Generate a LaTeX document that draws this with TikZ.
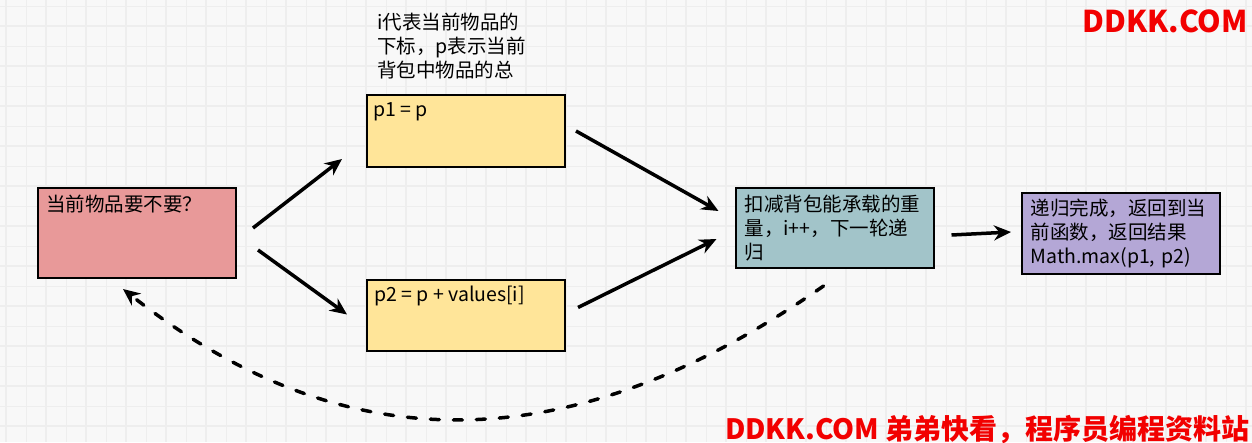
\documentclass[tikz,border=0pt]{standalone}
\usepackage{fontspec}
\setmainfont{Noto Sans CJK SC}
\usepackage{tikz}
\usetikzlibrary{positioning,arrows.meta}

\definecolor{hgrund}{HTML}{F8F8F8}
\definecolor{linie}{HTML}{EEEEEE}
\definecolor{rosa}{HTML}{E89999}
\definecolor{gelb}{HTML}{FFE599}
\definecolor{tuerkis}{HTML}{A2C4C9}
\definecolor{lila}{HTML}{B4A7D6}
\definecolor{marke}{HTML}{F20000}

\begin{document}
\begin{tikzpicture}[x=1pt,y=-1pt,
    >={Stealth[length=17pt,width=15pt]},
    schrift/.style={font=\fontsize{19.5}{24}\selectfont},
    kasten/.style={draw=black,line width=2pt,minimum width=198pt,inner sep=0pt,schrift},
    ecke/.style={anchor=west,inner sep=0pt,schrift},
    pfeil/.style={->,line width=3.5pt},
    strich/.style={->,line width=3.5pt,line cap=round,dash pattern=on 9pt off 14pt},
    wasser/.style={text=marke,inner sep=0pt,font=\bfseries}]
    \fill[hgrund] (0,0) rectangle (1252,442);
    \useasboundingbox (0,0) rectangle (1252,442);
    % Hintergrundraster
    \foreach \x in {6,26,...,1246}
    \draw[linie,line width=1pt] (\x,0) -- (\x,442);
    \foreach \y in {6,26,...,436}
    \draw[linie,line width=1pt] (0,\y) -- (1252,\y);
    \foreach \x in {6,46,...,1246}
    \draw[linie,line width=2pt] (\x,0) -- (\x,442);
    \foreach \y in {26,66,...,426}
    \draw[linie,line width=2pt] (0,\y) -- (1252,\y);

    \node[kasten,fill=rosa,minimum height=90pt,
    label={[ecke,xshift=9pt,yshift=-17pt]north west:当前物品要不要？}] (frage) at (137,233) {};
    \node[kasten,fill=gelb,minimum height=72pt,
    label={[ecke,xshift=7pt,yshift=-18pt]north west:p1 = p}] (pa) at (466,131) {};
    \node[kasten,fill=gelb,minimum height=71pt,
    label={[ecke,xshift=8pt,yshift=-17pt]north west:p2 = p + values[i]}] (pb) at (466,315.5) {};
    \node[schrift,inner sep=0pt,align=left,above right=15pt and 11pt of pa.north west]
    (notiz) {i代表当前物品的\\下标，p表示当前\\背包中物品的总};
    \node[kasten,fill=tuerkis,minimum height=80pt,text width=180pt,align=left]
    (abzug) at (834.5,228) {扣减背包能承载的重\\量，i++，下一轮递\\归};
    \node[kasten,fill=lila,minimum height=81pt,text width=181pt,align=left]
    (fertig) at (1121,233.5) {递归完成，返回到当\\前函数，返回结果\\Math.max(p1, p2)};

    \draw[pfeil] ([shift={(16,-5)}]frage.east) -- ([shift={(-24,28)}]pa.west);
    \draw[pfeil] ([shift={(21,17)}]frage.east) -- ([shift={(-19,-1)}]pb.west);
    \draw[pfeil] ([shift={(10,0)}]pa.east) -- ([shift={(-16,-17)}]abzug.west);
    \draw[pfeil] ([shift={(12,-8)}]pb.east) -- ([shift={(-18,11)}]abzug.west);
    \draw[pfeil] ([shift={(17,7)}]abzug.east) -- ([shift={(-10,-1.5)}]fertig.west);
    % Rueckweg gestrichelt
    \draw[strich] ([shift={(-11,17)}]abzug.south) .. controls (569,463) and (344,463)
    .. ([shift={(-14,10)}]frage.south);

    \node[wasser,anchor=base east,font=\bfseries\fontsize{30}{30}\selectfont] (oben) at (1248,32) {DDKK.COM};
    \node[wasser,anchor=base east,font=\bfseries\fontsize{28}{28}\selectfont] (unten) at (1250,439)
    {DDKK.COM 弟弟快看，程序员编程资料站};
\end{tikzpicture}
\end{document}
